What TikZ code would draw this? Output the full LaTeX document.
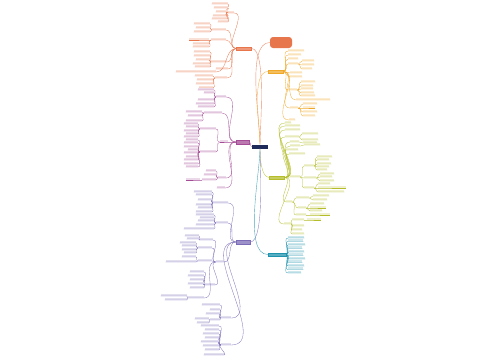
\documentclass[tikz,border=0pt]{standalone}
\usepackage{tikz}
\usetikzlibrary{positioning}

\definecolor{navy}{HTML}{1E2A5A}
\definecolor{org}{HTML}{E8764C}
\definecolor{amb}{HTML}{F0A828}
\definecolor{olv}{HTML}{B5BE2A}
\definecolor{tea}{HTML}{1F93AE}
\definecolor{pur}{HTML}{A44C96}
\definecolor{vio}{HTML}{7C6CB8}

\tikzset{
  branch/.style={draw=#1, fill=#1!75, inner sep=0pt, minimum height=3.5pt},
  leaf/.style={inner sep=0pt, minimum height=2pt, fill=#1!22},
  wire/.style={draw=#1, line width=.3pt},
  trunk/.style={draw=#1!80, line width=.4pt}
}

\begin{document}
\begin{tikzpicture}[x=1pt,y=-1pt]
\useasboundingbox[fill=white] (0,0) rectangle (500,360);

% centre and main branches
\node[fill=navy, inner sep=0pt, minimum width=16pt, minimum height=4pt] (root) at (260,146.5) {};
\node[fill=org, rounded corners=3pt, inner sep=0pt, minimum width=22pt, minimum height=11pt] (note) at (281,42.5) {};
\node[branch=org, minimum width=15pt] (L) at (244,48.5) {};
\node[branch=amb, minimum width=15pt] (A) at (275.5,71.5) {};
\node[branch=pur, minimum width=13pt] (P) at (242.5,142) {};
\node[branch=olv, minimum width=15pt] (G) at (277,177.5) {};
\node[branch=vio, minimum width=14pt] (V) at (243,242) {};
\node[branch=tea, minimum width=18pt] (T) at (277,254.5) {};

\draw[trunk=org] (root.north) to[out=90,in=180,looseness=.6] (note.west);
\draw[trunk=org] (root.north) to[out=90,in=0,looseness=.4] (L.east);
\draw[trunk=amb] (root.north) to[out=90,in=180,looseness=.6] (A.west);
\draw[trunk=pur] (root.west) to[out=180,in=0] (P.east);
\draw[trunk=olv] (root.south) to[out=-90,in=180,looseness=.7] (G.west);
\draw[trunk=vio] (root.south) to[out=-90,in=0,looseness=.4] (V.east);
\draw[trunk=tea] (root.south) to[out=-90,in=180,looseness=.6] (T.west);

% right side: amber
\foreach \n/\p/\x/\y/\w in {
  a1/A.east/288/51/16, a2/A.east/288/55/13, a3/A.east/288/59/10,
  a4/A.east/288/64/10, a41/a4.south east/302/61/12, a42/a4.south east/302/65/12,
  a43/a4.south east/302/69/10, a5/A.east/290/73/12, a6/A.east/290/77/12,
  a7/A.east/288/90/9, a71/a7.south east/301/82/14, a72/a7.south east/301/86/12,
  a73/a7.south east/301/89/12, a74/a7.south east/301/93/13, a75/a7.south east/301/96/14,
  a8/A.east/296/100/34, a9/A.east/290/108/8, a91/a9.south east/303/104/14,
  a92/a9.south east/303/108/12, a93/a9.south east/303/112/14,
  a94/a9.south east/303/116/12, a10/A.east/289/120/6} {
  \node[leaf=amb, minimum width=\w pt, anchor=south west] (\n) at (\x,\y) {};
  \draw[wire=amb] (\p) to[out=0,in=180] (\n.south west) -- (\n.south east);
}

% right side: olive
\foreach \n/\p/\x/\y/\w in {
  g1/G.east/285/123/6, g2/G.east/285/126/15, g3/G.east/285/130/15,
  g4/G.east/285/137/14, g41/g4.south east/302/134/16, g42/g4.south east/302/140/16,
  g5/G.east/290/142/9, g51/g5.south east/303/143/14,
  g6/G.east/290/146/10, g61/g6.south east/304/145/16,
  g7/G.east/286/150/12, g8/G.east/289/154/16,
  g9/G.east/290/177/10, g91/g9.south east/304/166/10,
  g911/g91.south east/317/157/15, g912/g91.south east/317/160/12,
  g913/g91.south east/317/164/14, g914/g91.south east/317/167/12,
  g915/g91.south east/317/170/10, g92/g9.south east/304/178/12,
  g921/g92.south east/320/174/14, g922/g92.south east/320/177/12,
  g923/g92.south east/320/181/14, g93/g9.south east/304/188/10,
  g931/g93.south east/318/184/12, g932/g93.south east/318/188/28,
  g933/g93.south east/318/192/26,
  g10/G.east/286/202/6, g101/g10.south east/296/198/13,
  g1011/g101.south east/313/196/16, g1012/g101.south east/313/200/14,
  g102/g10.south east/298/208/8, g1021/g102.south east/310/204/14,
  g1022/g102.south east/310/208/16, g1023/g102.south east/310/211/12,
  g103/g10.south east/296/215/10, g1031/g103.south east/310/215/20,
  g11/G.east/284/224/7, g111/g11.south east/292/220/12,
  g1111/g111.south east/307/220/14, g112/g11.south east/292/226/12,
  g113/g11.south east/292/230/10, g114/g11.south east/292/234/12} {
  \node[leaf=olv, minimum width=\w pt, anchor=south west] (\n) at (\x,\y) {};
  \draw[wire=olv] (\p) to[out=0,in=180] (\n.south west) -- (\n.south east);
}

% right side: teal
\foreach \y/\w [count=\i] in {238/16,241.5/15,245/17,248.5/14,252/16,255.5/15,
  259/17,262.5/14,266/16,269.5/15,273/13} {
  \node[leaf=tea, minimum width=\w pt, anchor=south west] (t\i) at (288,\y) {};
  \draw[wire=tea] (T.east) to[out=0,in=180] (t\i.south west) -- (t\i.south east);
}

% left side: orange
\foreach \n/\p/\x/\y/\w in {
  l1/L.west/234/13/7, l11/l1.south west/228/4/16, l12/l1.south west/228/8/14,
  l13/l1.south west/228/12/12, l14/l1.south west/228/16/15,
  l15/l1.south west/228/19/16, l16/l1.south west/228/22/10,
  l2/L.west/226/30/14, l21/l2.south west/210/24/16, l22/l2.south west/210/28/14,
  l23/l2.south west/210/32/16, l3/L.west/226/40/15, l31/l3.south west/209/40/20,
  l32/l3.south west/209/44/16, l33/l3.south west/209/47/16,
  l4/L.west/227/62/16, l41/l4.south west/210/52/16, l42/l4.south west/210/56/16,
  l43/l4.south west/210/60/14, l44/l4.south west/210/64/17,
  l45/l4.south west/210/67/15, l5/L.west/228/69/12, l6/L.west/216/72/40,
  l7/L.west/227/78/12, l71/l7.south west/213/76/18, l72/l7.south west/213/80/16,
  l73/l7.south west/213/84/17, l74/l7.south west/213/88/14} {
  \node[leaf=org, minimum width=\w pt, anchor=south east] (\n) at (\x,\y) {};
  \draw[wire=org] (\p) to[out=180,in=0] (\n.south east) -- (\n.south west);
}

% left side: purple
\foreach \n/\p/\x/\y/\w in {
  p1/P.west/226/97/10, p11/p1.south west/214/90/16, p12/p1.south west/214/93/10,
  p13/p1.south west/214/100/16, p14/p1.south west/214/104/18,
  p15/p1.south west/214/107/16, p2/P.west/222/113/18,
  p21/p2.south west/202/112/16, p22/p2.south west/202/116/14,
  p23/p2.south west/202/121/16, p3/P.west/228/142/8,
  p31/p3.south west/216/129/16, p311/p31.south west/198/124/14,
  p312/p31.south west/198/127/12, p313/p31.south west/198/131/14,
  p314/p31.south west/198/134/12, p315/p31.south west/198/137/14,
  p32/p3.south west/216/152/16, p321/p32.south west/198/140/12,
  p322/p32.south west/198/143/14, p323/p32.south west/198/147/14,
  p324/p32.south west/198/150/10, p325/p32.south west/198/153/14,
  p326/p32.south west/198/157/12, p327/p32.south west/198/160/14,
  p328/p32.south west/198/164/14, p329/p32.south west/198/167/12,
  p4/P.west/226/178/8, p41/p4.south west/216/171/10, p42/p4.south west/216/175/12,
  p43/p4.south west/216/180/14, p431/p43.south west/200/180/14,
  p5/P.west/225/188/8} {
  \node[leaf=pur, minimum width=\w pt, anchor=south east] (\n) at (\x,\y) {};
  \draw[wire=pur] (\p) to[out=180,in=0] (\n.south east) -- (\n.south west);
}

% left side: violet
\foreach \n/\p/\x/\y/\w in {
  v1/V.west/228/203/15, v11/v1.south west/212/192/18, v12/v1.south west/212/195/16,
  v13/v1.south west/212/200/14, v14/v1.south west/212/205/16,
  v15/v1.south west/212/208/14, v16/v1.south west/212/212/16,
  v2/V.west/228/223/12, v21/v2.south west/214/215/18, v22/v2.south west/214/218/14,
  v23/v2.south west/214/221/16, v24/v2.south west/214/225/18,
  v25/v2.south west/214/229/30, v3/V.west/224/262/8,
  v31/v3.south west/213/240/13, v311/v31.south west/199/236/14,
  v312/v31.south west/199/239/12, v32/v3.south west/212/248/14,
  v321/v32.south west/196/243/16, v322/v32.south west/196/246/14,
  v323/v32.south west/196/250/14, v324/v32.south west/196/253/12,
  v33/v3.south west/212/261/14, v331/v33.south west/196/257/14,
  v332/v33.south west/196/262/30, v34/v3.south west/215/285/10,
  v341/v34.south west/204/272/14, v342/v34.south west/204/276/16,
  v343/v34.south west/204/280/14, v344/v34.south west/204/284/16,
  v345/v34.south west/204/288/14, v35/v3.south west/204/298/16,
  v351/v35.south west/187/296/26, v352/v35.south west/187/300/22,
  v4/V.west/231/318/10, v41/v4.south west/220/305/18, v42/v4.south west/220/310/10,
  v43/v4.south west/220/314/14, v44/v4.south west/220/320/10,
  v441/v44.south west/209/319/14, v442/v44.south west/209/323/12,
  v5/V.west/231/345/10, v51/v5.south west/219/326/18, v52/v5.south west/219/330/14,
  v53/v5.south west/219/334/16, v54/v5.south west/219/338/14,
  v55/v5.south west/219/342/18, v56/v5.south west/219/346/16,
  v57/v5.south west/219/350/14, v58/v5.south west/224/355/20} {
  \node[leaf=vio, minimum width=\w pt, anchor=south east] (\n) at (\x,\y) {};
  \draw[wire=vio] (\p) to[out=180,in=0] (\n.south east) -- (\n.south west);
}
\end{tikzpicture}
\end{document}
